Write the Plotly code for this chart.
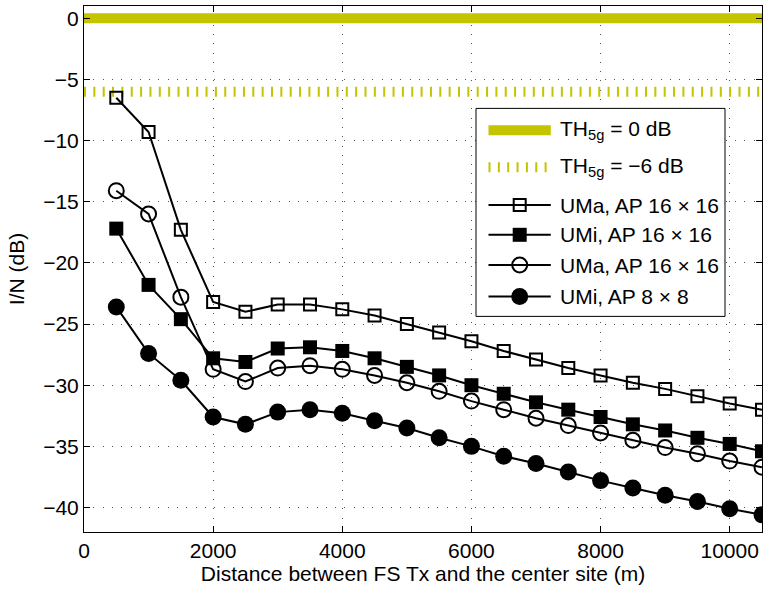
import plotly.graph_objects as go

# ---------------- data ----------------
distance_m = [500, 1000, 1500, 2000, 2500, 3000, 3500, 4000, 4500, 5000, 5500,
              6000, 6500, 7000, 7500, 8000, 8500, 9000, 9500, 10000, 10500]

uma_ap16 = [-6.5, -9.3, -17.3, -23.2, -24.0, -23.4, -23.4, -23.8, -24.3, -25.0, -25.7,
            -26.4, -27.2, -27.9, -28.6, -29.2, -29.8, -30.3, -30.9, -31.5, -32.0]
umi_ap16 = [-17.2, -21.8, -24.6, -27.8, -28.1, -27.0, -26.9, -27.2, -27.8, -28.5, -29.2,
            -30.0, -30.7, -31.4, -32.0, -32.6, -33.2, -33.7, -34.3, -34.8, -35.4]
uma_ap16_b = [-14.1, -16.0, -22.8, -28.7, -29.7, -28.6, -28.4, -28.7, -29.2, -29.8, -30.5,
              -31.3, -32.0, -32.7, -33.3, -33.9, -34.5, -35.1, -35.6, -36.2, -36.7]
umi_ap8 = [-23.6, -27.4, -29.6, -32.6, -33.2, -32.2, -32.0, -32.3, -32.9, -33.5, -34.3,
           -35.0, -35.8, -36.4, -37.1, -37.8, -38.4, -39.0, -39.5, -40.1, -40.6]

threshold_x = [0, 10500]
threshold_0db = [0, 0]
threshold_6db = [-6, -6]

legend_labels = ["TH<sub>5g</sub> = 0 dB", "TH<sub>5g</sub> = \u22126 dB",
                 "UMa, AP 16 \u00d7 16", "UMi, AP 16 \u00d7 16",
                 "UMa, AP 16 \u00d7 16", "UMi, AP 8 \u00d7 8"]

x_ticks = [0, 2000, 4000, 6000, 8000, 10000]
x_ticktext = ["0", "2000", "4000", "6000", "8000", "10000"]
y_ticks = [-40, -35, -30, -25, -20, -15, -10, -5, 0]

# ---------------- style ----------------
FONT = "Liberation Sans, Arial, Helvetica, sans-serif"
FS = 21
OLIVE = "#c4c400"
TH_DASH = "2px,7.35px"

series = [
    (uma_ap16, "square-open", 12, 2),
    (umi_ap16, "square", 14, 0),
    (uma_ap16_b, "circle-open", 15, 2),
    (umi_ap8, "circle", 17, 0),
]

X_RANGE = [0, 10500]
Y_RANGE = [-42, 1]
L, R, T, B = 84, 4, 6, 60
W, H = 766, 592

fig = go.Figure()

fig.add_trace(go.Scatter(x=threshold_x, y=threshold_0db, mode="lines",
                         line=dict(color=OLIVE, width=10), hoverinfo="skip"))
fig.add_trace(go.Scatter(x=threshold_x, y=threshold_6db, mode="lines",
                         line=dict(color=OLIVE, width=10, dash=TH_DASH), hoverinfo="skip"))

for vals, sym, size, lw in series:
    fig.add_trace(go.Scatter(
        x=distance_m, y=vals, mode="lines+markers",
        line=dict(color="black", width=2),
        marker=dict(symbol=sym, size=size, color="black",
                    line=dict(color="black", width=lw)),
        hoverinfo="skip"))

# ---------------- manual legend (overlay axes in pixel units) ----------------
row_y = [130.3, 167.3, 205.0, 234.8, 265.0, 296.5]
line_x0, line_xm, line_x1 = 488.5, 519.7, 550.8
text_x = 558


def px_to_x(px):
    return X_RANGE[0] + (px - L) / (W - L - R) * (X_RANGE[1] - X_RANGE[0])


def px_to_y(py):
    return Y_RANGE[1] - (py - T) / (H - T - B) * (Y_RANGE[1] - Y_RANGE[0])


fig.add_shape(type="rect", xref="x", yref="y",
              x0=px_to_x(476), x1=px_to_x(725), y0=px_to_y(108.4), y1=px_to_y(316.4),
              line=dict(color="black", width=1), fillcolor="white", layer="between")

fig.add_trace(go.Scatter(x=[line_x0, line_x1], y=[row_y[0]] * 2, xaxis="x2", yaxis="y2",
                         mode="lines", line=dict(color=OLIVE, width=10), hoverinfo="skip"))
fig.add_trace(go.Scatter(x=[line_x0, line_x1], y=[row_y[1]] * 2, xaxis="x2", yaxis="y2",
                         mode="lines", line=dict(color=OLIVE, width=10, dash=TH_DASH),
                         hoverinfo="skip"))
for i, (vals, sym, size, lw) in enumerate(series):
    yy = row_y[i + 2]
    fig.add_trace(go.Scatter(x=[line_x0, line_x1], y=[yy, yy], xaxis="x2", yaxis="y2",
                             mode="lines", line=dict(color="black", width=2), hoverinfo="skip"))
    fig.add_trace(go.Scatter(x=[line_xm], y=[yy], xaxis="x2", yaxis="y2", mode="markers",
                             marker=dict(symbol=sym, size=size, color="black",
                                         line=dict(color="black", width=lw)),
                             hoverinfo="skip"))

for lab, yy in zip(legend_labels, row_y):
    fig.add_annotation(x=px_to_x(text_x), y=px_to_y(yy), xref="x", yref="y", text=lab,
                       showarrow=False, xanchor="left", yanchor="middle",
                       font=dict(family=FONT, size=FS, color="black"))

axis_common = dict(
    showline=True, linecolor="black", linewidth=1, mirror="ticks",
    ticks="inside", ticklen=6, tickwidth=1, tickcolor="black",
    showgrid=True, gridcolor="#555555", gridwidth=1, griddash="1px,8.3px",
    zeroline=False, automargin=False,
    tickfont=dict(family=FONT, size=FS, color="black"),
)

fig.update_layout(
    width=W, height=H,
    margin=dict(l=L, r=R, t=T, b=B),
    paper_bgcolor="white", plot_bgcolor="white",
    showlegend=False,
    font=dict(family=FONT, size=FS, color="black"),
    xaxis=dict(range=X_RANGE, tickvals=x_ticks, ticktext=x_ticktext,
               title=dict(text="Distance between FS Tx and the center site (m)",
                          font=dict(family=FONT, size=FS), standoff=4),
               **axis_common),
    yaxis=dict(range=Y_RANGE, tickvals=y_ticks,
               title=dict(text="I/N (dB)", font=dict(family=FONT, size=FS), standoff=12),
               **axis_common),
    xaxis2=dict(overlaying="x", anchor="y2", range=[L, W - R], visible=False,
                fixedrange=True, showgrid=False, zeroline=False),
    yaxis2=dict(overlaying="y", anchor="x2", range=[H - B, T], visible=False,
                fixedrange=True, showgrid=False, zeroline=False),
)

fig.write_html("out.html")
